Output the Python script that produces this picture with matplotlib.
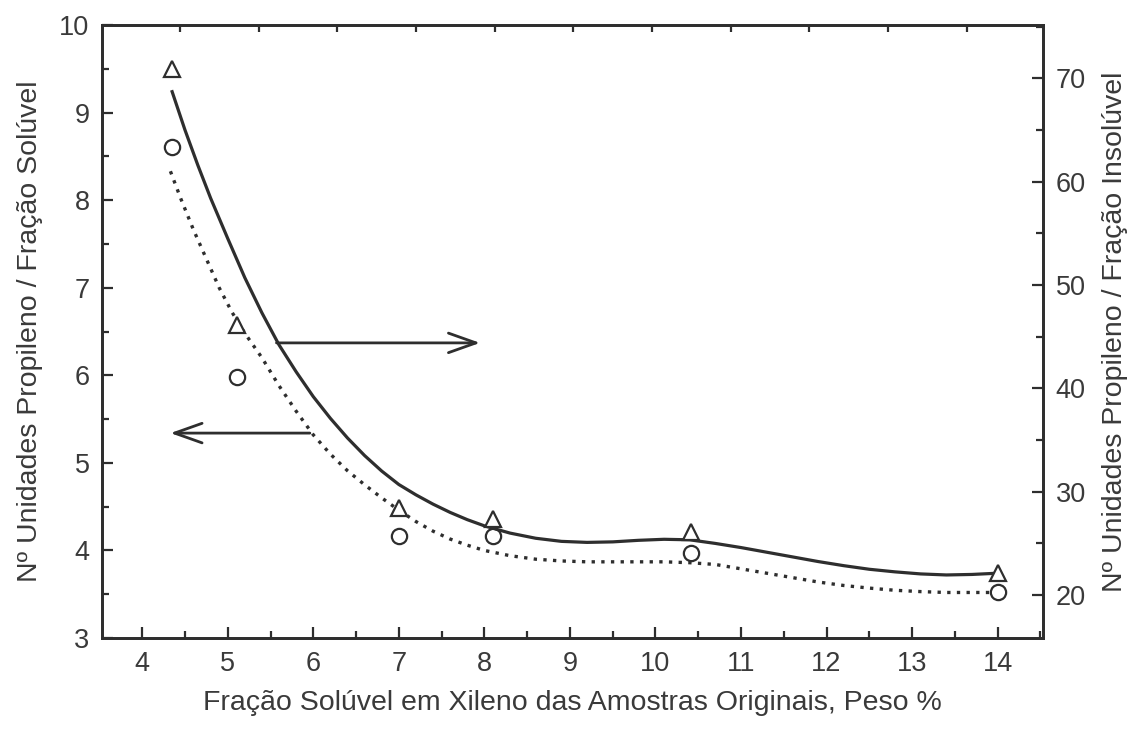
import matplotlib
matplotlib.use("Agg")
import matplotlib.pyplot as plt
import numpy as np
from matplotlib.ticker import MultipleLocator

plt.rcParams['font.family'] = ['Liberation Sans', 'DejaVu Sans']

INK = '#2e2e2e'
TEXT = '#3a3a3a'

# soluble fraction (left axis, circles)
xs_sample = [4.35, 5.11, 7.0, 8.1, 10.42, 14.0]
soluvel = [8.61, 5.98, 4.17, 4.16, 3.97, 3.52]
# insoluble fraction (right axis, triangles)
insoluvel = [70.9, 46.1, 28.4, 27.35, 26.1, 22.1]

# fitted trend for the soluble fraction (dotted)
fit_sol_x = [4.33, 4.45, 4.60, 4.75, 4.90, 5.05, 5.20, 5.40, 5.60, 5.80, 6.00,
             6.20, 6.40, 6.60, 6.80, 7.00, 7.20, 7.40, 7.60, 7.80, 8.00, 8.30,
             8.60, 8.90, 9.20, 9.50, 9.80, 10.10, 10.40, 10.70, 11.00, 11.30,
             11.60, 11.90, 12.20, 12.50, 12.80, 13.10, 13.40, 13.70, 13.91]
fit_sol_y = [8.33, 8.02, 7.66, 7.33, 7.00, 6.72, 6.48, 6.20, 5.88, 5.59, 5.32,
             5.10, 4.91, 4.75, 4.60, 4.46, 4.33, 4.22, 4.13, 4.06, 4.00, 3.94,
             3.90, 3.88, 3.87, 3.87, 3.87, 3.87, 3.86, 3.84, 3.79, 3.74,
             3.69, 3.64, 3.60, 3.57, 3.545, 3.53, 3.52, 3.52, 3.52]

# fitted trend for the insoluble fraction (solid)
fit_ins_x = [4.35, 4.50, 4.65, 4.80, 5.00, 5.20, 5.40, 5.60, 5.80, 6.00, 6.20,
             6.40, 6.60, 6.80, 7.00, 7.20, 7.40, 7.60, 7.80, 8.00, 8.30, 8.60,
             8.90, 9.20, 9.50, 9.80, 10.10, 10.40, 10.70, 11.00, 11.30, 11.60,
             11.90, 12.20, 12.50, 12.80, 13.10, 13.40, 13.70, 13.95]
fit_ins_y = [68.7, 65.0, 61.6, 58.4, 54.5, 50.7, 47.3, 44.2, 41.6, 39.2, 37.1,
             35.2, 33.5, 32.0, 30.7, 29.7, 28.8, 28.0, 27.3, 26.7, 26.0, 25.5,
             25.2, 25.1, 25.15, 25.3, 25.4, 25.35, 25.0, 24.6, 24.15, 23.7,
             23.25, 22.85, 22.5, 22.25, 22.05, 21.95, 22.0, 22.1]

fig = plt.figure(figsize=(11.42, 7.31), dpi=100)
ax = fig.add_axes([0.0893, 0.1272, 0.824, 0.8386])
ax2 = ax.twinx()

ax.plot(fit_sol_x, fit_sol_y, color=INK, lw=2.4, linestyle=(0, (1.0, 1.9)))
ax.plot(xs_sample, soluvel, 'o', ms=11, mfc='white', mec=INK, mew=1.6)
ax2.plot(fit_ins_x, fit_ins_y, color=INK, lw=2.3)
ax2.plot(xs_sample, insoluvel, '^', ms=11.5, mfc='white', mec=INK, mew=1.6)

# arrows telling which axis each curve belongs to
arrow = dict(arrowstyle='->,head_length=0.9,head_width=0.32', color=INK, lw=2.0,
             mutation_scale=22, shrinkA=0, shrinkB=0)
ax.annotate('', xy=(7.95, 6.37), xytext=(5.57, 6.37), arrowprops=arrow)
ax.annotate('', xy=(4.33, 5.34), xytext=(5.96, 5.34), arrowprops=arrow)

ax.set_xlim(3.53, 14.53)
ax.set_ylim(3, 10)
ax2.set_ylim(15.85, 75.15)

ax.xaxis.set_major_locator(MultipleLocator(1))
ax.xaxis.set_minor_locator(MultipleLocator(0.5))
ax.yaxis.set_major_locator(MultipleLocator(1))
ax.yaxis.set_minor_locator(MultipleLocator(0.5))
ax2.yaxis.set_minor_locator(MultipleLocator(5))
ax2.set_yticks(np.arange(20, 71, 10))

for a in (ax, ax2):
    a.tick_params(which='major', direction='in', length=8, width=1.6, color=INK,
                  labelsize=19.5, labelcolor=TEXT, pad=9)
    a.tick_params(which='minor', direction='in', length=5, width=1.6, color=INK)
    for s in a.spines.values():
        s.set_color(INK)
        s.set_linewidth(2.0)

# the top frame carries its own, unlabelled tick marks
top = ax.secondary_xaxis('top')
top.set_xticks(np.arange(4.44, 13.7, 0.92))
top.tick_params(direction='in', length=5, width=1.6, color=INK, labeltop=False)
top.spines['top'].set_visible(False)

ax.set_xlabel('Fração Solúvel em Xileno das Amostras Originais, Peso %', fontsize=20.5,
              color=TEXT, labelpad=10)
ax.set_ylabel('Nº Unidades Propileno / Fração Solúvel', fontsize=20.5, color=TEXT,
              labelpad=12)
ax2.set_ylabel('Nº Unidades Propileno / Fração Insolúvel', fontsize=20.5, color=TEXT,
               labelpad=12)

fig.savefig('out.png', dpi=100)
